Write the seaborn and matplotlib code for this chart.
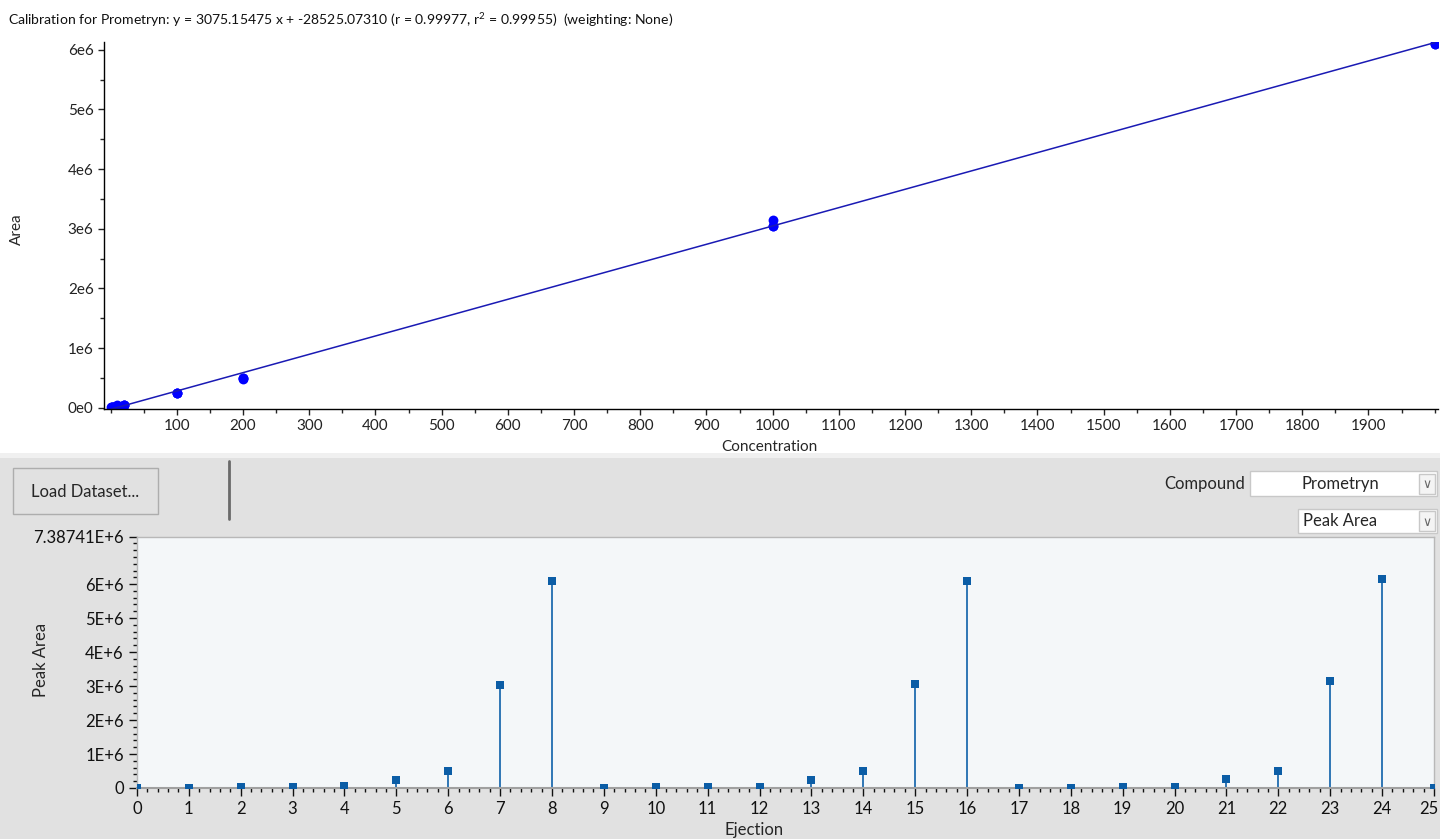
import numpy as np
import pandas as pd
import seaborn as sns
import matplotlib.pyplot as plt
from matplotlib.patches import Rectangle
from matplotlib.lines import Line2D
from matplotlib.transforms import ScaledTranslation
from matplotlib.ticker import MultipleLocator, FixedLocator, FuncFormatter

# injection sequence: ejection index, standard concentration, measured peak area
ejection = list(range(26))
concentration = [1, 2, 5, 10, 20, 100, 200, 1000, 2000,
                 2, 5, 10, 20, 100, 200, 1000, 2000,
                 2, 5, 10, 20, 100, 200, 1000, 2000,
                 0]
peak_area = [9000, 12000, 15000, 40000, 45000, 240000, 490000, 3040000, 6100000,
             12000, 15000, 35000, 40000, 245000, 495000, 3050000, 6090000,
             10000, 14000, 38000, 42000, 250000, 500000, 3150000, 6150000,
             8000]

compound = "Prometryn"
title = ("Calibration for Prometryn: y = 3075.15475 x + -28525.07310 "
         "(r = 0.99977, r$^2$ = 0.99955)  (weighting: None)")
top_xticks = list(range(100, 2000, 100))
top_yticks = [0, 1e6, 2e6, 3e6, 4e6, 5e6, 6e6]
bottom_xticks = list(range(26))
bottom_ymax = 7.38741e6
bottom_yticks = [0, 1e6, 2e6, 3e6, 4e6, 5e6, 6e6, bottom_ymax]

df = pd.DataFrame({"Ejection": ejection, "Concentration": concentration,
                   "Area": peak_area})
calib = df[df["Concentration"] > 0]

sns.set_style("ticks")
plt.rcParams['font.family'] = ['Lato', 'DejaVu Sans']
plt.rcParams['mathtext.fontset'] = 'custom'
plt.rcParams['mathtext.rm'] = 'Lato'

fig = plt.figure(figsize=(14.4, 8.39), dpi=100, facecolor="white")

# grey control panel behind the lower chart
fig.patches.append(Rectangle((0, 0), 1, 0.4541, transform=fig.transFigure,
                             facecolor="#e1e1e1", edgecolor="none", zorder=-2))
fig.patches.append(Rectangle((0, 0.4541), 1, 0.0065, transform=fig.transFigure,
                             facecolor="#f0f0f0", edgecolor="none", zorder=-2))

# ---- calibration curve ----
ax1 = fig.add_axes([0.0722, 0.5125, 0.9264, 0.4375])
sns.regplot(data=calib, x="Concentration", y="Area", ax=ax1, ci=None,
            scatter_kws=dict(color="#0000ff", s=50, linewidths=0, alpha=1),
            line_kws=dict(color="#1a1ab4", lw=1.1))
ax1.set_xlim(-10, 2005)
ax1.set_ylim(-0.02e6, 6.13e6)
ax1.xaxis.set_major_locator(FixedLocator(top_xticks))
ax1.xaxis.set_minor_locator(MultipleLocator(50))
ax1.yaxis.set_major_locator(FixedLocator(top_yticks))
ax1.yaxis.set_minor_locator(MultipleLocator(0.5e6))
ax1.yaxis.set_major_formatter(FuncFormatter(
    lambda v, p: "0e0" if v == 0 else f"{v / 1e6:.0f}e6"))
ax1.tick_params(which="major", direction="out", length=4, width=1,
                labelsize=11, colors="#222222")
ax1.tick_params(which="minor", direction="out", length=3, width=1)
for side in ("top", "right"):
    ax1.spines[side].set_visible(False)
for side in ("left", "bottom"):
    ax1.spines[side].set_color("black")
    ax1.spines[side].set_linewidth(1)
ax1.set_xlabel("Concentration", fontsize=11)
ax1.set_ylabel("Area", fontsize=11)
ax1.xaxis.set_label_coords(0.499, -0.084)
ax1.yaxis.set_label_coords(-0.060, 0.49)
fig.text(0.0056, 0.976, title, fontsize=10.1, va="center", ha="left",
         color="#111111")

# ---- peak area per ejection ----
ax2 = fig.add_axes([0.0951, 0.0608, 0.9007, 0.2992])
ax2.set_facecolor("#f4f7f9")
stem_color = "#2f76b5"
ax2.vlines(df["Ejection"], 0, df["Area"], color=stem_color, lw=1.4, zorder=2)
sns.scatterplot(data=df, x="Ejection", y="Area", ax=ax2, marker="s", s=32,
                color="#0b5da6", linewidth=0, zorder=3, clip_on=True)
ax2.set_xlim(0, 25)
ax2.set_ylim(0, bottom_ymax)
ax2.xaxis.set_major_locator(FixedLocator(bottom_xticks))
ax2.xaxis.set_minor_locator(MultipleLocator(0.2))
ax2.yaxis.set_major_locator(FixedLocator(bottom_yticks))
ax2.yaxis.set_minor_locator(MultipleLocator(0.2e6))


def bottom_fmt(v, p):
    if v == 0:
        return "0"
    if abs(v - bottom_ymax) < 1:
        return "7.38741E+6"
    return f"{v / 1e6:.0f}E+6"


ax2.yaxis.set_major_formatter(FuncFormatter(bottom_fmt))
ax2.tick_params(which="major", direction="out", length=6, width=1,
                labelsize=12, colors="#111111")
ax2.tick_params(which="minor", direction="out", length=3, width=1,
                colors="#111111")
# last tick label sits at the window edge, nudge it inside
last_label = ax2.xaxis.get_major_ticks()[-1].label1
last_label.set_transform(last_label.get_transform()
                         + ScaledTranslation(-5 / 100, 0, fig.dpi_scale_trans))
for side in ax2.spines.values():
    side.set_color("#b8b8b8")
    side.set_linewidth(1)
ax2.spines["bottom"].set_color("#a0a0a0")
ax2.spines["bottom"].set_linewidth(1.5)
ax2.set_xlabel("Ejection", fontsize=12)
ax2.set_ylabel("Peak Area", fontsize=12)
ax2.xaxis.set_label_coords(0.476, -0.135)
ax2.yaxis.set_label_coords(-0.068, 0.51)

# ---- control panel widgets ----
H = 839.0
W = 1440.0


def box(x0, y0, x1, y1, face, edge):
    fig.patches.append(Rectangle((x0 / W, 1 - y1 / H), (x1 - x0) / W,
                                 (y1 - y0) / H, transform=fig.transFigure,
                                 facecolor=face, edgecolor=edge, lw=1,
                                 zorder=1))


box(13, 468, 158, 514, "#e1e1e1", "#adadad")
fig.text(85 / W, 1 - 492 / H, "Load Dataset...", fontsize=12,
         ha="center", va="center")
fig.lines.append(Line2D([229 / W, 229 / W], [1 - 461 / H, 1 - 519 / H],
                        transform=fig.transFigure, color="#6a6a6a", lw=2))
fig.text(1245 / W, 1 - 484 / H, "Compound", fontsize=12, ha="right",
         va="center")
box(1250, 471, 1437, 496, "white", "#c8c8c8")
fig.text(1340 / W, 1 - 484 / H, compound, fontsize=12, ha="center",
         va="center")
box(1419, 474, 1435, 494, "#f4f4f4", "#c8c8c8")
fig.text(1427 / W, 1 - 485 / H, "\u2228", fontsize=9, ha="center",
         va="center", color="#666666", family=["DejaVu Sans"])
box(1298, 509, 1437, 533, "white", "#c8c8c8")
fig.text(1303 / W, 1 - 521 / H, "Peak Area", fontsize=12, ha="left",
         va="center")
box(1419, 511, 1435, 531, "#f4f4f4", "#c8c8c8")
fig.text(1427 / W, 1 - 522 / H, "\u2228", fontsize=9, ha="center",
         va="center", color="#666666", family=["DejaVu Sans"])

fig.savefig("out.png", dpi=100, facecolor=fig.get_facecolor())
